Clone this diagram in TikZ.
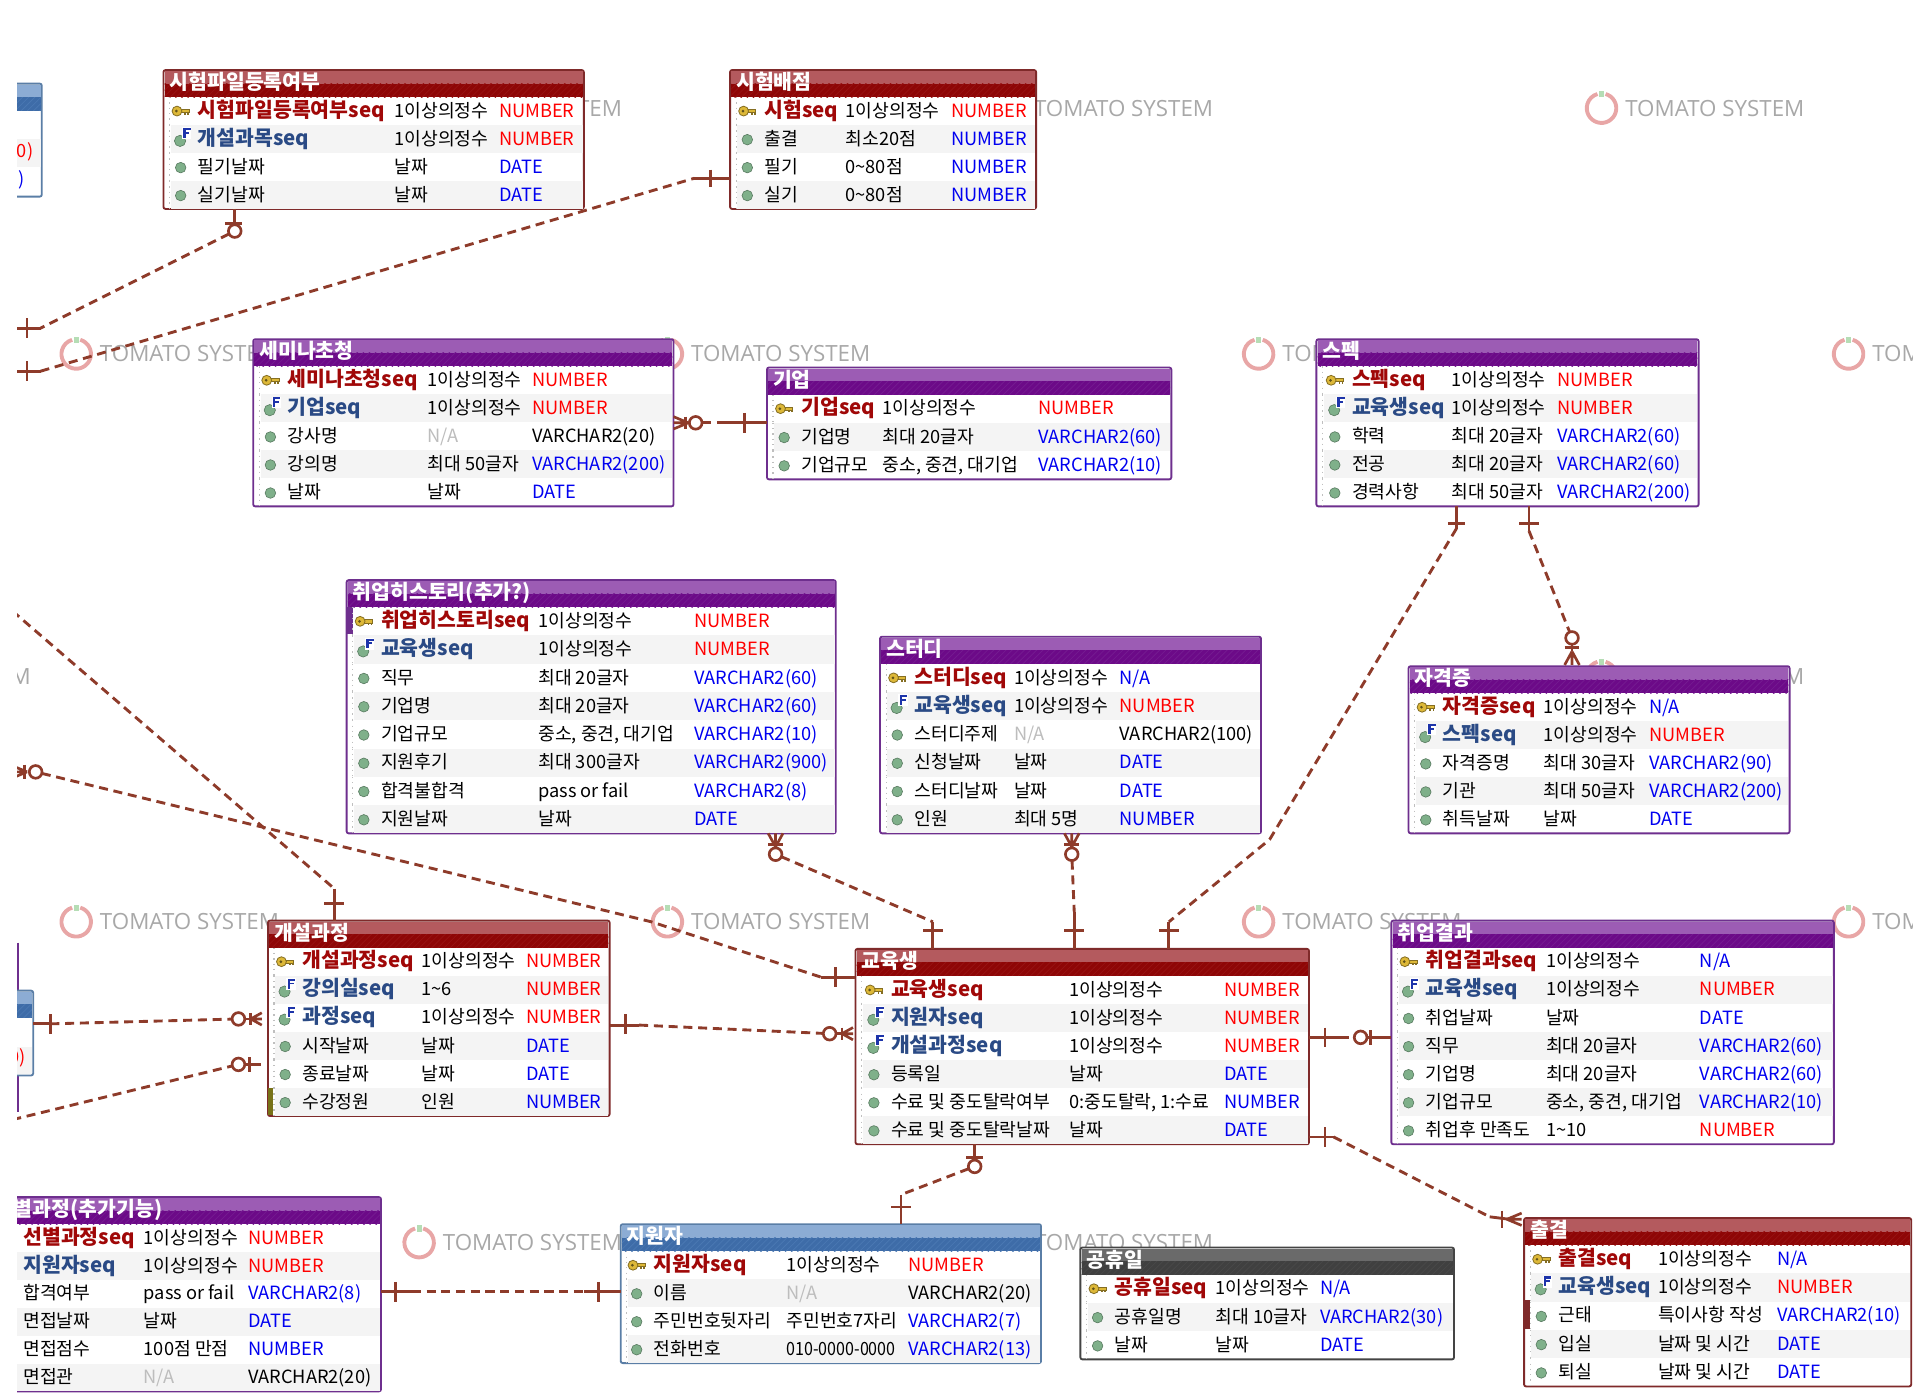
\documentclass[tikz,border=0pt]{standalone}
\usepackage{fontspec}
\usetikzlibrary{patterns,calc}
\setmainfont{Noto Sans CJK KR}
\newfontfamily\wmfont{Open Sans}
\definecolor{rel}{HTML}{8E3B2A}
\definecolor{topR}{HTML}{B45A5E}\definecolor{lowR}{HTML}{8E0606}\definecolor{bdR}{HTML}{7F2A2A}\definecolor{hatR}{HTML}{961212}
\definecolor{topP}{HTML}{9C5CB4}\definecolor{lowP}{HTML}{6C0A88}\definecolor{bdP}{HTML}{6E2F8E}\definecolor{hatP}{HTML}{741A90}
\definecolor{topB}{HTML}{8CACD4}\definecolor{lowB}{HTML}{3E6CA8}\definecolor{bdB}{HTML}{5A7EA6}\definecolor{hatB}{HTML}{4A78B2}
\definecolor{topG}{HTML}{6A6A6A}\definecolor{lowG}{HTML}{404040}\definecolor{bdG}{HTML}{444444}\definecolor{hatG}{HTML}{484848}
\definecolor{pkc}{HTML}{A00808}\definecolor{fkc}{HTML}{2A4A85}\definecolor{stripe}{HTML}{F4F4F4}
\definecolor{redt}{HTML}{FF0000}\definecolor{blut}{HTML}{0000F0}\definecolor{grat}{HTML}{BDBDBD}
\definecolor{dotg}{HTML}{7FB08A}\definecolor{keyy}{HTML}{DDB838}\definecolor{wmg}{HTML}{A8A8A8}\definecolor{wmp}{HTML}{E8A6A6}\definecolor{wmv}{HTML}{B5DDB5}
\newcount\rowno
\tikzset{
 tblframe/.style={rectangle,inner sep=0pt,outer sep=0pt,anchor=north west,fill=white,line width=.9pt,rounded corners=1pt},
 cell/.style={anchor=base west,inner sep=0pt,outer sep=0pt,font=\fontsize{8.9}{10}\selectfont},
 cellb/.style={anchor=base west,inner sep=0pt,outer sep=0pt,font=\fontsize{10}{10}\bfseries\selectfont},
 titlet/.style={anchor=base west,inner sep=0pt,outer sep=0pt,text=white,font=\fontsize{10}{10}\bfseries\selectfont},
 relsolid/.style={draw=rel,line width=1.4pt},
 reldash/.style={draw=rel,line width=1.4pt,dash pattern=on 4.4pt off 2.8pt},
 ringn/.style={circle,draw=rel,line width=1.3pt,fill=white,minimum size=6.2pt,inner sep=0pt,outer sep=0pt},
}
\newcommand\etab[8]{%
 \pgfmathsetmacro\rowh{(#5-#3-22)/#6}%
 \def\tname{#1}\def\curx{#2}\def\cury{#3}\def\curxb{#4}\global\rowno=0
 \pgfmathsetlengthmacro\tw{(#4-#2)*0.6pt}\pgfmathsetlengthmacro\th{(#5-#3)*0.6pt}%
 \node[tblframe,draw=bd#7,minimum width=\tw,minimum height=\th] (#1) at (#2,#3) {};
 \fill[top#7] (#2+1,#3+1) rectangle (#4-1,#3+11);
 \fill[low#7] (#2+1,#3+11) rectangle (#4-1,#3+22);
 \fill[pattern=north east lines,pattern color=hat#7] (#2+1,#3+11) rectangle (#4-1,#3+22);
 \node[titlet] (#1title) at (#2+5,#3+16) {#8};
}
\newcommand\cols[3]{\def\nx{#1}\def\tyx{#2}\def\dtx{#3}}
\newcommand\icp{%
 \fill[keyy,draw=keyy!60!black,line width=.4pt] (\nx-14,\yc-1.3) rectangle (\nx-7,\yc+1.3);
 \fill[keyy!60!black] (\nx-11,\yc+1.3) rectangle (\nx-9.5,\yc+3);
 \fill[keyy!60!black] (\nx-8.5,\yc+1.3) rectangle (\nx-7,\yc+3);
 \fill[keyy,draw=keyy!60!black,line width=.4pt] (\nx-17,\yc) circle (4);
 \fill[keyy!45!black] (\nx-17.5,\yc) circle (1.2);}
\newcommand\icn{\fill[dotg,draw=dotg!70!black,line width=.3pt] (\nx-14,\yc+.5) circle (4.3);}
\newcommand\icf{\fill[dotg,draw=dotg!70!black,line width=.3pt] (\nx-14.5,\yc+1.5) circle (4.6);
 \fill[white] (\nx-13,\yc-9.5) rectangle (\nx-5.5,\yc);
 \fill[fkc!70!blue] (\nx-12,\yc-9) rectangle (\nx-10,\yc-1);
 \fill[fkc!70!blue] (\nx-12,\yc-9) rectangle (\nx-6,\yc-7.3);
 \fill[fkc!70!blue] (\nx-12,\yc-5.8) rectangle (\nx-7,\yc-4.3);}
% kind, name, type, type colour, data type, data type colour
\newcommand\rowe[6]{%
 \global\advance\rowno by 1
 \pgfmathsetmacro\ya{\cury+22+(\the\rowno-1)*\rowh}\pgfmathsetmacro\yc{\ya+\rowh/2}%
 \ifodd\rowno\else\fill[stripe] (\curx+6,\ya) rectangle (\curxb-1,\ya+\rowh);\fi
 \draw[black!25,line width=.6pt,dotted] (\curx+5,\ya) -- (\curx+5,\ya+\rowh);
 \csname ic#1\endcsname
 \if#1n\node[cell] (\tname r\the\rowno n) at (\nx,\yc+5) {#2};
 \else\if#1p\node[cellb,text=pkc] (\tname r\the\rowno n) at (\nx,\yc+5) {#2};
 \else\node[cellb,text=fkc] (\tname r\the\rowno n) at (\nx,\yc+5) {#2};\fi\fi
 \node[cell,text=#4] (\tname r\the\rowno t) at (\tyx,\yc+5) {#3};
 \node[cell,text=#6] (\tname r\the\rowno d) at (\dtx,\yc+5) {#5};
}
\newcommand\wm[2]{%
 \draw[wmp,line width=1.9pt] ({#1+12*cos(-74)},{#2+12*sin(-74)}) arc[start angle=-74,end angle=254,radius=12];
 \fill[wmv] (#1-2,#2-14) rectangle (#1+2,#2-9);
 \node[anchor=west,inner sep=0pt,text=wmg,font=\fontsize{10.9}{12}\wmfont\selectfont] (wm#1x#2) at (#1+19,#2) {TOMATO SYSTEM};
}
\newcommand\barh[3]{\draw[relsolid] (#1-#3,#2) -- (#1+#3,#2);}
\newcommand\barv[3]{\draw[relsolid] (#1,#2-#3) -- (#1,#2+#3);}
% crow's feet: join point, tip coordinate along the axis, other axis
\newcommand\crowh[3]{\draw[draw=rel,line width=1.3pt] (#1,#3) -- (#2,#3-5) (#1,#3) -- (#2,#3) (#1,#3) -- (#2,#3+5);}
\newcommand\crowv[3]{\draw[draw=rel,line width=1.3pt] (#3,#1) -- (#3-6,#2) (#3,#1) -- (#3,#2) (#3,#1) -- (#3+6,#2);}
\begin{document}
\begin{tikzpicture}[x=0.6pt,y=-0.6pt]
\useasboundingbox (0,0) rectangle (1567,1137.4);
\begin{scope}
\clip (14,0) rectangle (1556,1137.4);
% watermarks
\wm{341}{88}\wm{822}{88}\wm{1303}{88}
\wm{62}{288}\wm{543}{288}\wm{1024}{288}\wm{1504}{288}
\wm{-140}{550}\wm{1303}{550}
\wm{62}{750}\wm{543}{750}\wm{1024}{750}\wm{1504}{750}
\wm{341}{1011}\wm{822}{1011}
% clipped tables on the left edge
\draw[bdP,line width=1.1pt] (14.5,767) -- (14.5,905);
\etab{ta}{-100}{68}{34}{160}{3}{B}{}
\fill[stripe] (-99,113) rectangle (33,136);
\node[cell,text=redt,anchor=base east] (tar2) at (27,128) {0)};
\node[cell,text=blut,anchor=base east] (tar3) at (20,151) {)};
\etab{tb}{-100}{806}{27}{875}{2}{B}{}
\fill[stripe] (-99,852) rectangle (26,874);
\node[cell,text=redt,anchor=base east] (tbr2) at (21,865) {0)};
% tables
\etab{t1}{133}{57}{475}{170}{4}{R}{시험파일등록여부}\cols{161}{321}{406}
\rowe{p}{시험파일등록여부seq}{1이상의정수}{black}{NUMBER}{redt}
\rowe{f}{개설과목seq}{1이상의정수}{black}{NUMBER}{redt}
\rowe{n}{필기날짜}{날짜}{black}{DATE}{blut}
\rowe{n}{실기날짜}{날짜}{black}{DATE}{blut}
\etab{t2}{594}{57}{843}{170}{4}{R}{시험배점}\cols{622}{688}{774}
\rowe{p}{시험seq}{1이상의정수}{black}{NUMBER}{redt}
\rowe{n}{출결}{최소20점}{black}{NUMBER}{blut}
\rowe{n}{필기}{0\textasciitilde80점}{black}{NUMBER}{blut}
\rowe{n}{실기}{0\textasciitilde80점}{black}{NUMBER}{blut}
\etab{t3}{206}{276}{548}{412}{5}{P}{세미나초청}\cols{234}{348}{433}
\rowe{p}{세미나초청seq}{1이상의정수}{black}{NUMBER}{redt}
\rowe{f}{기업seq}{1이상의정수}{black}{NUMBER}{redt}
\rowe{n}{강사명}{N/A}{grat}{VARCHAR2(20)}{black}
\rowe{n}{강의명}{최대 50글자}{black}{VARCHAR2(200)}{blut}
\rowe{n}{날짜}{날짜}{black}{DATE}{blut}
\etab{t4}{624}{299}{953}{390}{3}{P}{기업}\cols{652}{718}{845}
\rowe{p}{기업seq}{1이상의정수}{black}{NUMBER}{redt}
\rowe{n}{기업명}{최대 20글자}{black}{VARCHAR2(60)}{blut}
\rowe{n}{기업규모}{중소, 중견, 대기업}{black}{VARCHAR2(10)}{blut}
\etab{t5}{1071}{276}{1382}{412}{5}{P}{스펙}\cols{1100}{1181}{1267}
\rowe{p}{스펙seq}{1이상의정수}{black}{NUMBER}{redt}
\rowe{f}{교육생seq}{1이상의정수}{black}{NUMBER}{redt}
\rowe{n}{학력}{최대 20글자}{black}{VARCHAR2(60)}{blut}
\rowe{n}{전공}{최대 20글자}{black}{VARCHAR2(60)}{blut}
\rowe{n}{경력사항}{최대 50글자}{black}{VARCHAR2(200)}{blut}
\etab{t6}{282}{472}{680}{678}{8}{P}{취업히스토리(추가?)}\cols{310}{438}{565}
\fill[bdP] (282,494) rectangle (287,516);
\rowe{p}{취업히스토리seq}{1이상의정수}{black}{NUMBER}{redt}
\rowe{f}{교육생seq}{1이상의정수}{black}{NUMBER}{redt}
\rowe{n}{직무}{최대 20글자}{black}{VARCHAR2(60)}{blut}
\rowe{n}{기업명}{최대 20글자}{black}{VARCHAR2(60)}{blut}
\rowe{n}{기업규모}{중소, 중견, 대기업}{black}{VARCHAR2(10)}{blut}
\rowe{n}{지원후기}{최대 300글자}{black}{VARCHAR2(900)}{blut}
\rowe{n}{합격불합격}{pass or fail}{black}{VARCHAR2(8)}{blut}
\rowe{n}{지원날짜}{날짜}{black}{DATE}{blut}
\etab{t7}{716}{518}{1026}{678}{6}{P}{스터디}\cols{744}{825}{911}
\rowe{p}{스터디seq}{1이상의정수}{black}{N/A}{blut}
\rowe{f}{교육생seq}{1이상의정수}{black}{NUMBER}{redt}
\rowe{n}{스터디주제}{N/A}{grat}{VARCHAR2(100)}{black}
\rowe{n}{신청날짜}{날짜}{black}{DATE}{blut}
\rowe{n}{스터디날짜}{날짜}{black}{DATE}{blut}
\rowe{n}{인원}{최대 5명}{black}{NUMBER}{blut}
\etab{t8}{1146}{542}{1456}{678}{5}{P}{자격증}\cols{1174}{1256}{1342}
\rowe{p}{자격증seq}{1이상의정수}{black}{N/A}{blut}
\rowe{f}{스펙seq}{1이상의정수}{black}{NUMBER}{redt}
\rowe{n}{자격증명}{최대 30글자}{black}{VARCHAR2(90)}{blut}
\rowe{n}{기관}{최대 50글자}{black}{VARCHAR2(200)}{blut}
\rowe{n}{취득날짜}{날짜}{black}{DATE}{blut}
\etab{t9}{218}{749}{496}{908}{6}{R}{개설과정}\cols{246}{343}{428}
\fill[olive!80!black] (218,885) rectangle (222,907);
\rowe{p}{개설과정seq}{1이상의정수}{black}{NUMBER}{redt}
\rowe{f}{강의실seq}{1\textasciitilde6}{black}{NUMBER}{redt}
\rowe{f}{과정seq}{1이상의정수}{black}{NUMBER}{redt}
\rowe{n}{시작날짜}{날짜}{black}{DATE}{blut}
\rowe{n}{종료날짜}{날짜}{black}{DATE}{blut}
\rowe{n}{수강정원}{인원}{black}{NUMBER}{blut}
\etab{t10}{696}{772}{1065}{931}{6}{R}{교육생}\cols{725}{870}{996}
\rowe{p}{교육생seq}{1이상의정수}{black}{NUMBER}{redt}
\rowe{f}{지원자seq}{1이상의정수}{black}{NUMBER}{redt}
\rowe{f}{개설과정seq}{1이상의정수}{black}{NUMBER}{redt}
\rowe{n}{등록일}{날짜}{black}{DATE}{blut}
\rowe{n}{수료 및 중도탈락여부}{0:중도탈락, 1:수료}{black}{NUMBER}{blut}
\rowe{n}{수료 및 중도탈락날짜}{날짜}{black}{DATE}{blut}
\etab{t11}{1132}{749}{1492}{931}{7}{P}{취업결과}\cols{1160}{1258}{1383}
\rowe{p}{취업결과seq}{1이상의정수}{black}{N/A}{blut}
\rowe{f}{교육생seq}{1이상의정수}{black}{NUMBER}{redt}
\rowe{n}{취업날짜}{날짜}{black}{DATE}{blut}
\rowe{n}{직무}{최대 20글자}{black}{VARCHAR2(60)}{blut}
\rowe{n}{기업명}{최대 20글자}{black}{VARCHAR2(60)}{blut}
\rowe{n}{기업규모}{중소, 중견, 대기업}{black}{VARCHAR2(10)}{blut}
\rowe{n}{취업후 만족도}{1\textasciitilde10}{black}{NUMBER}{redt}
\etab{t12}{-9}{974}{310}{1132}{6}{P}{선별과정(추가기능)}\cols{19}{117}{202}
\rowe{p}{선별과정seq}{1이상의정수}{black}{NUMBER}{redt}
\rowe{f}{지원자seq}{1이상의정수}{black}{NUMBER}{redt}
\rowe{n}{합격여부}{pass or fail}{black}{VARCHAR2(8)}{blut}
\rowe{n}{면접날짜}{날짜}{black}{DATE}{blut}
\rowe{n}{면접점수}{100점 만점}{black}{NUMBER}{blut}
\rowe{n}{면접관}{N/A}{grat}{VARCHAR2(20)}{black}
\etab{t13}{505}{996}{847}{1109}{4}{B}{지원자}\cols{532}{640}{739}
\rowe{p}{지원자seq}{1이상의정수}{black}{NUMBER}{redt}
\rowe{n}{이름}{N/A}{grat}{VARCHAR2(20)}{black}
\rowe{n}{주민번호뒷자리}{주민번호7자리}{black}{VARCHAR2(7)}{blut}
\rowe{n}{전화번호}{\scalebox{.88}[1]{010-0000-0000}}{black}{VARCHAR2(13)}{blut}
\etab{t14}{879}{1015}{1183}{1106}{3}{G}{공휴일}\cols{907}{989}{1074}
\rowe{p}{공휴일seq}{1이상의정수}{black}{N/A}{blut}
\rowe{n}{공휴일명}{최대 10글자}{black}{VARCHAR2(30)}{blut}
\rowe{n}{날짜}{날짜}{black}{DATE}{blut}
\etab{t15}{1240}{991}{1555}{1128}{5}{R}{출결}\cols{1268}{1349}{1446}
\fill[bdR] (1240,1058) rectangle (1245,1081);
\rowe{p}{출결seq}{1이상의정수}{black}{N/A}{blut}
\rowe{f}{교육생seq}{1이상의정수}{black}{NUMBER}{redt}
\rowe{n}{근태}{특이사항 작성}{black}{VARCHAR2(10)}{blut}
\rowe{n}{입실}{날짜 및 시간}{black}{DATE}{blut}
\rowe{n}{퇴실}{날짜 및 시간}{black}{DATE}{blut}
% connector way points
\coordinate (e1) at (10,267);\coordinate (b1) at (33,267);
\coordinate (e2) at (10,302);\coordinate (b2) at (33,302);\coordinate (b2r) at (565,145);
\coordinate (c4a) at (1185,430);\coordinate (c4b) at (1033,683);\coordinate (c4c) at (951,750);
\coordinate (c5a) at (1244,432);
\coordinate (c6b) at (759,750);
\coordinate (c7b) at (874,742);
\coordinate (c8a) at (10,497);\coordinate (c8b) at (272,723);
\coordinate (c9a) at (10,628);\coordinate (c9b) at (530,750);\coordinate (c9c) at (668,795);
\coordinate (c10a) at (41,833);
\coordinate (c11a) at (10,911);
\coordinate (c12a) at (520,834);
\coordinate (c13a) at (1090,844);
\coordinate (c14a) at (1085,925);
\coordinate (c15a) at (733,972);
\coordinate (c16a) at (335,1051);\coordinate (c16b) at (475,1051);
\coordinate (c3a) at (590,344);
% rings
\node[ringn] (r1) at (191,188) {};
\node[ringn] (r3) at (566,344) {};
\node[ringn] (r5) at (1279,519) {};
\node[ringn] (r6) at (631,695) {};
\node[ringn] (r7) at (872,695) {};
\node[ringn] (r9) at (29,628) {};
\node[ringn] (r10) at (194,829) {};
\node[ringn] (r11) at (194,866) {};
\node[ringn] (r12) at (675,841) {};
\node[ringn] (r13) at (1107,844) {};
\node[ringn] (r15) at (793,949) {};
% 1 exam file table to off-page table
\draw[relsolid] (t1.south -| r1) -- (r1.north); \barh{190}{182}{7}
\draw[reldash] (r1) -- (b1); \draw[relsolid] (b1) -- (e1); \barv{22}{267}{8}
% 2 exam score
\draw[reldash] (b2) -- (b2r); \draw[relsolid] (b2) -- (e2); \barv{22}{302}{8}
\draw[relsolid] (b2r) -- (t2.west |- b2r); \barv{578}{145}{7}
% 3 seminar to company
\draw[reldash] (r3) -- (c3a); \draw[relsolid] (c3a) -- (t4.west |- c3a); \barv{606}{344}{8}
\crowh{560}{548}{344}\barv{558}{344}{5}
% 4 spec to student
\draw[relsolid] (t5.south -| c4a) -- (c4a); \barh{1185}{426}{7}
\draw[reldash] (c4a) -- (c4b) -- (c4c);
\draw[relsolid] (c4c) -- (t10.north -| c4c); \barh{951}{757}{8}
% 5 spec to certificate
\draw[relsolid] (t5.south -| c5a) -- (c5a); \barh{1244}{426}{8}
\draw[reldash] (c5a) -- (r5);
\crowv{530}{541}{1279}\barh{1279}{527}{6}\draw[relsolid] (r5.south) -- (1279,530);
% 6 job history to student
\crowv{689}{678}{631}\barh{631}{687}{6}
\draw[reldash] (r6) -- (c6b); \draw[relsolid] (c6b) -- (t10.north -| c6b); \barh{759}{757}{8}
% 7 study to student
\crowv{689}{678}{872}\barh{872}{687}{6}
\draw[reldash] (r7) -- (c7b); \draw[relsolid] (c7b) -- (t10.north -| c7b); \barh{874}{757}{8}
% 8 off page to course
\draw[reldash] (c8a) -- (c8b); \draw[relsolid] (c8b) -- (t9.north -| c8b); \barh{272}{735}{8}
% 9 off page to student
\crowh{22}{10}{628}\barv{20}{628}{6}
\draw[reldash] (r9) -- (c9b) -- (c9c); \draw[relsolid] (c9c) -- (t10.west |- c9c); \barv{680}{795}{8}
% 10 course left
\draw[relsolid] (tb.east |- c10a) -- (c10a); \barv{41}{833}{8}
\draw[reldash] (c10a) -- (r10);
\crowh{204}{213}{829}\barv{204}{829}{5}\draw[relsolid] (r10.east) -- (204,829);
% 11 off page to course
\draw[reldash] (c11a) -- (r11);
\draw[relsolid] (r11.east) -- (212,866); \barv{203}{866}{6}
% 12 course to student
\draw[relsolid] (t9.east |- c12a) -- (c12a); \barv{509}{833}{8}
\draw[reldash] (c12a) -- (r12);
\crowh{685}{694}{841}\barv{685}{841}{5}\draw[relsolid] (r12.east) -- (685,841);
% 13 student to result
\draw[relsolid] (t10.east |- c13a) -- (c13a); \barv{1078}{844}{8}
\draw[reldash] (c13a) -- (r13);
\draw[relsolid] (r13.east) -- (t11.west |- r13); \barv{1115}{844}{6}
% 14 student to attendance
\draw[relsolid] (t10.east |- c14a) -- (c14a); \barv{1078}{925}{8}
\coordinate (c14b) at (1212,990);
\draw[reldash] (c14a) -- (c14b);
\draw[relsolid] (c14b) -- (1228,992); \barv{1222}{992}{7}
\crowh{1226}{1238}{992}
% 15 student to applicant
\draw[relsolid] (t10.south -| r15) -- (r15.north); \barh{793}{942}{7}
\draw[reldash] (r15) -- (c15a);
\draw[relsolid] (c15a) -- (t13.north -| c15a); \barh{733}{982}{8}
% 16 screening to applicant
\draw[relsolid] (t12.east |- c16a) -- (c16a); \barv{322}{1051}{8}
\draw[reldash] (c16a) -- (c16b);
\draw[relsolid] (c16b) -- (t13.west |- c16b); \barv{487}{1051}{8}
\end{scope}
\end{tikzpicture}
\end{document}
